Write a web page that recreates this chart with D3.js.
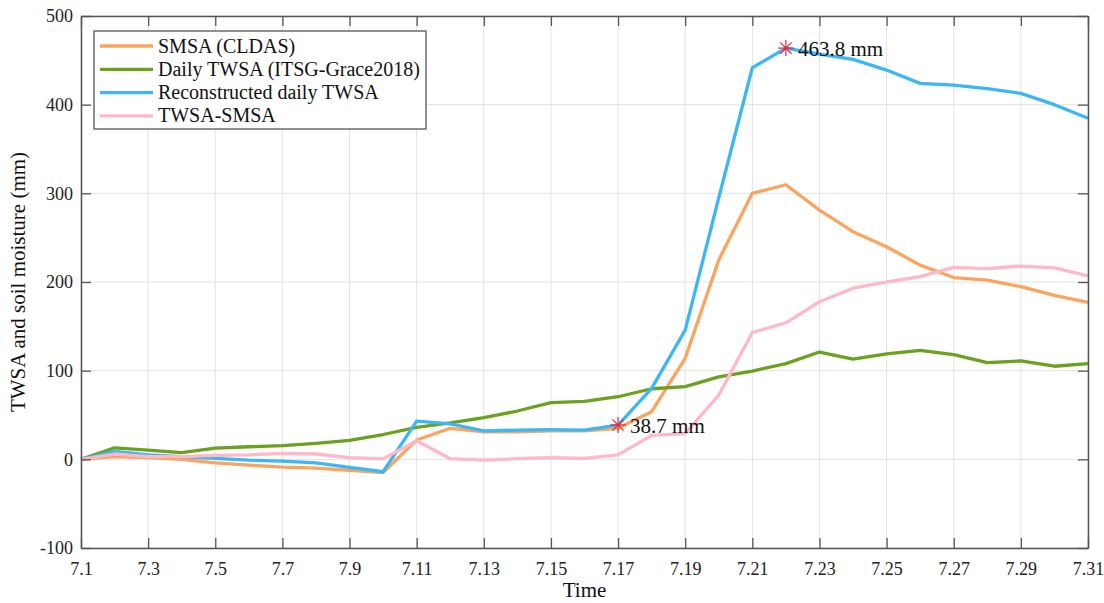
<!DOCTYPE html>
<html><head><meta charset="utf-8">
<script src="https://cdn.jsdelivr.net/npm/d3@7"></script>
<style>body{margin:0;background:#fff;} svg text{font-family:"Liberation Serif","Times New Roman",serif !important;}</style>
</head><body><svg id="c" width="1104" height="603"></svg>
<script>
const days = d3.range(1, 32);
const xTickDays = d3.range(1, 32, 2);
const xTickLabels = xTickDays.map(d => "7." + d);
const yTicks = [-100, 0, 100, 200, 300, 400, 500];
const yTickLabels = ["-100", "0", "100", "200", "300", "400", "500"];
const seriesNames = ["SMSA (CLDAS)", "Daily TWSA (ITSG-Grace2018)", "Reconstructed daily TWSA", "TWSA-SMSA"];
const smsa = [0,3,2,0,-4,-6.5,-8.7,-10,-12.4,-15,21.8,35,31,31,32,32,35,53.7,114,224.8,300,309.7,281,256.7,239.8,219,205,202,194.7,185,177];
const dailyTwsa = [0,13,10.5,7.5,12.7,14.2,15.4,18,21.4,28,36,41,47,54.5,64,65.4,70.6,79.6,82,93,99.6,108,121,113,119,123,118,109,111,105,108];
const recon = [0,9,5,3,1,-1,-2,-4,-9,-14,43,40,32,33,33.4,33,38.7,80,145.8,295,441.6,463.8,457,451,439,424,422,418,412.8,400,384.6];
const diff = [0,6,3,3,4.5,5,6.7,6,2,0.5,21,0.7,-1,0.7,2,1,5,27,29,72.5,143,154,177.7,193,200,206,216.5,215,218,216,207];
const marks = [{day:17, value:38.7, label:"38.7 mm"}, {day:22, value:463.8, label:"463.8 mm"}];
const colors = ["#FBA45F", "#6AA11E", "#3DB7F3", "#FFB8C8"];
const allSeries = [smsa, dailyTwsa, recon, diff];

const svg = d3.select("#c");
const L = 81, R = 1088, T = 16, B = 548;
const x = d3.scaleLinear().domain([1, 31]).range([L, R]);
const y = d3.scaleLinear().domain([-100, 500]).range([B, T]);

// grid
svg.append("g").selectAll("line").data(xTickDays).join("line")
  .attr("x1", d => x(d)).attr("x2", d => x(d)).attr("y1", T).attr("y2", B)
  .attr("stroke", "#e3e3e3").attr("stroke-width", 1);
svg.append("g").selectAll("line").data(yTicks).join("line")
  .attr("x1", L).attr("x2", R).attr("y1", d => y(d)).attr("y2", d => y(d))
  .attr("stroke", "#e3e3e3").attr("stroke-width", 1);

// lines
const line = d3.line().x((d,i) => x(days[i])).y(d => y(d));
[0, 1, 2, 3].forEach(k => {
  svg.append("path").datum(allSeries[k]).attr("d", line)
    .attr("fill", "none").attr("stroke", colors[k]).attr("stroke-width", 3.3)
    .attr("stroke-linejoin", "round");
});

// axes
const axCol = "#555";
const xb = svg.append("g").attr("transform", `translate(0,${B})`)
  .call(d3.axisBottom(x).tickValues(xTickDays).tickFormat((d,i) => xTickLabels[i]).tickSizeInner(-10).tickSizeOuter(0).tickPadding(14));
const xt = svg.append("g").attr("transform", `translate(0,${T})`)
  .call(d3.axisTop(x).tickValues(xTickDays).tickFormat(() => "").tickSizeInner(-10).tickSizeOuter(0));
const yl = svg.append("g").attr("transform", `translate(${L},0)`)
  .call(d3.axisLeft(y).tickValues(yTicks).tickFormat((d,i) => yTickLabels[i]).tickSizeInner(-10).tickSizeOuter(0).tickPadding(8));
const yr = svg.append("g").attr("transform", `translate(${R},0)`)
  .call(d3.axisRight(y).tickValues(yTicks).tickFormat(() => "").tickSizeInner(-10).tickSizeOuter(0));
[xb, xt, yl, yr].forEach(g => {
  g.attr("font-family", "Liberation Serif").attr("font-size", 18);
  g.selectAll("path").attr("stroke", axCol).attr("stroke-width", 1.5);
  g.selectAll("line").attr("stroke", axCol).attr("stroke-width", 1.3);
  g.selectAll("text").attr("fill", "#222").attr("font-size", 18).attr("font-family", "Liberation Serif");
});

// markers
marks.forEach(m => {
  const g = svg.append("g").attr("transform", `translate(${x(m.day)},${y(m.value)})`);
  [0, 45, 90, 135].forEach(a => {
    g.append("line").attr("x1", -8).attr("x2", 8).attr("y1", 0).attr("y2", 0)
      .attr("transform", `rotate(${a})`).attr("stroke", "#EE2233").attr("stroke-width", 1.2);
  });
  svg.append("text").attr("x", x(m.day) + 12).attr("y", y(m.value) + 8)
    .attr("font-size", 21).attr("fill", "#111").text(m.label);
});

// legend
const lg = svg.append("g");
lg.append("rect").attr("x", 94).attr("y", 31).attr("width", 332).attr("height", 98)
  .attr("fill", "#fff").attr("stroke", "#555").attr("stroke-width", 1.3);
seriesNames.forEach((n, i) => {
  const yy = 46 + i * 23.3;
  lg.append("line").attr("x1", 100).attr("x2", 153).attr("y1", yy).attr("y2", yy)
    .attr("stroke", colors[i]).attr("stroke-width", 3.3);
  lg.append("text").attr("x", 158).attr("y", yy + 6.5).attr("font-size", 20).attr("fill", "#111").text(n);
});

// titles
svg.append("text").attr("x", (L + R) / 2).attr("y", 597).attr("text-anchor", "middle")
  .attr("font-size", 21).attr("fill", "#111").text("Time");
svg.append("text").attr("transform", `translate(25,${(T + B) / 2}) rotate(-90)`).attr("text-anchor", "middle")
  .attr("font-size", 21).attr("fill", "#111").text("TWSA and soil moisture (mm)");
</script></body></html>
